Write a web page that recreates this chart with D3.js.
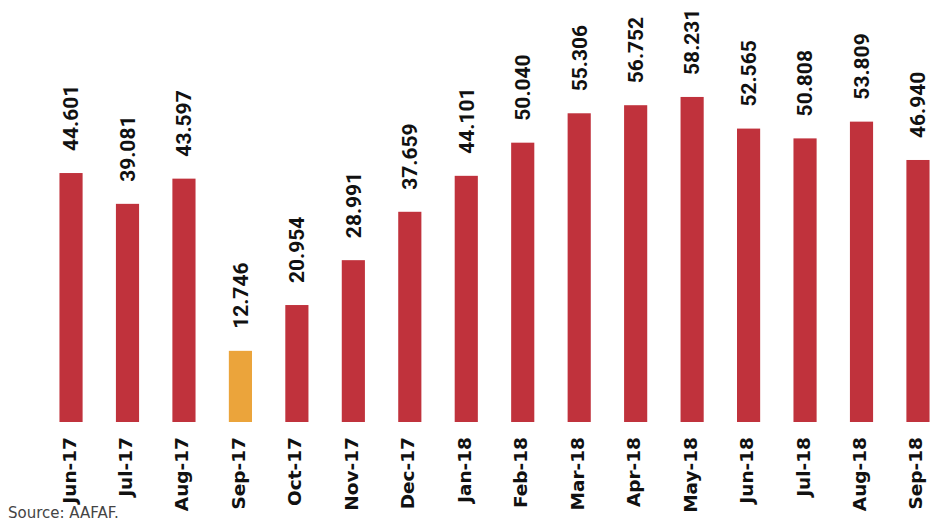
<!DOCTYPE html>
<html>
<head>
<meta charset="utf-8">
<script src="https://cdn.jsdelivr.net/npm/d3@7"></script>
<style>
  html, body { margin: 0; padding: 0; background: #fff; }
</style>
</head>
<body>
<div id="chart"></div>
<script>
const months = ['Jun-17', 'Jul-17', 'Aug-17', 'Sep-17', 'Oct-17', 'Nov-17', 'Dec-17', 'Jan-18',
  'Feb-18', 'Mar-18', 'Apr-18', 'May-18', 'Jun-18', 'Jul-18', 'Aug-18', 'Sep-18'];
const values = [44.601, 39.081, 43.597, 12.746, 20.954, 28.991, 37.659, 44.101,
  50.040, 55.306, 56.752, 58.231, 52.565, 50.808, 53.809, 46.940];
const highlight = ['Sep-17'];

const width = 933;
const height = 523;
const baseline = 422;

const svg = d3
  .select('#chart')
  .append('svg')
  .attr('width', width)
  .attr('height', height);

const x = d3
  .scaleBand()
  .domain(months)
  .range([42.8, 946.2])
  .paddingInner(0.59)
  .paddingOuter(0.295);

const y = d3.scaleLinear().domain([0, 75.6]).range([baseline, 0]);

const data = months.map((m, i) => ({ month: m, value: values[i] }));

svg.append('text')
  .attr('x', 8)
  .attr('y', 518)
  .attr('font-family', 'DejaVu Sans, sans-serif')
  .attr('font-size', 15)
  .attr('fill', '#444')
  .text('Source: AAFAF.');

svg.selectAll('.bar')
  .data(data)
  .enter()
  .append('rect')
  .attr('class', 'bar')
  .attr('x', (d) => x(d.month))
  .attr('y', (d) => y(d.value))
  .attr('width', x.bandwidth())
  .attr('height', (d) => baseline - y(d.value))
  .attr('fill', (d) => (highlight.includes(d.month) ? '#eba43b' : '#c0323c'));

svg.selectAll('.value-label')
  .data(data)
  .enter()
  .append('text')
  .attr('class', 'value-label')
  .attr('transform', (d) =>
    `translate(${x(d.month) + x.bandwidth() / 2}, ${y(d.value) - 22}) rotate(-90)`)
  .attr('dy', '0.35em')
  .attr('text-anchor', 'start')
  .attr('font-family', 'Roboto, sans-serif')
  .attr('font-weight', 'bold')
  .attr('font-size', 21)
  .attr('fill', '#111')
  .text((d) => d3.format('.3f')(d.value));

svg.selectAll('.month-label')
  .data(months)
  .enter()
  .append('text')
  .attr('class', 'month-label')
  .attr('transform', (d) =>
    `translate(${x(d) + x.bandwidth() / 2 - 2}, 437) rotate(-90)`)
  .attr('dy', '0.35em')
  .attr('text-anchor', 'end')
  .attr('font-family', 'DejaVu Sans, sans-serif')
  .attr('font-weight', 'bold')
  .attr('font-size', 18.5)
  .attr('fill', '#111')
  .text((d) => d);
</script>
</body>
</html>
